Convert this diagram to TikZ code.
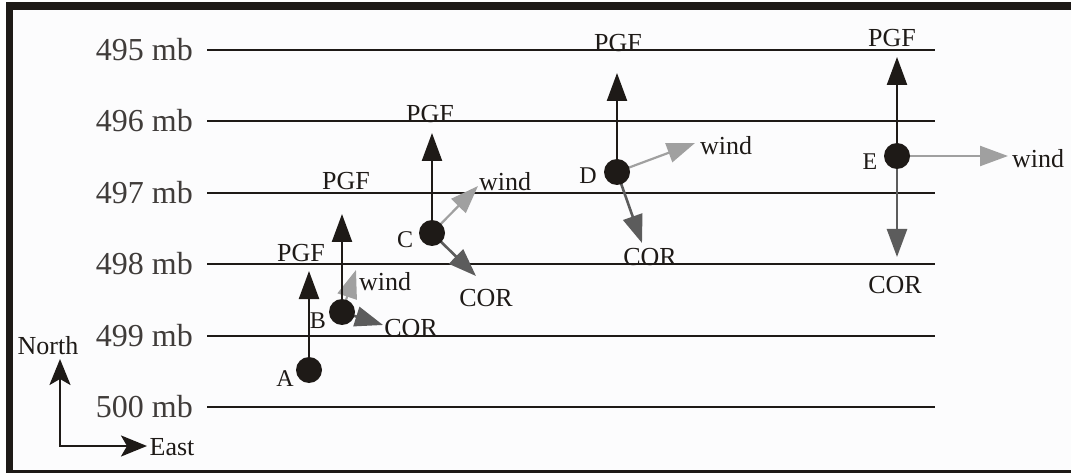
\documentclass[tikz,border=0pt]{standalone}
\usepackage{fontspec}
\setmainfont{Liberation Serif}
\usetikzlibrary{arrows.meta}
\pgfdeclarelayer{back}
\pgfsetlayers{back,main}

\definecolor{ink}{HTML}{1E1A17}
\definecolor{windc}{HTML}{A0A0A0}
\definecolor{corc}{HTML}{5C5C5C}
\definecolor{paper}{HTML}{FCFCFD}

\begin{document}
\begin{tikzpicture}[x=1pt,y=-1pt,
  isobar/.style={draw=ink, line width=2.8pt},
  lvl/.style={anchor=east, inner sep=0pt, text=ink!85, font=\fontsize{32}{38}\selectfont},
  tag/.style={inner sep=0pt, text=ink, font=\fontsize{26}{30}\selectfont},
  ptname/.style={inner sep=0pt, text=ink, font=\fontsize{24}{28}\selectfont},
  parcel/.style={circle, fill=ink, minimum size=26pt, inner sep=0pt},
  headtip/.tip={Triangle[length=28pt,width=20pt]},
  pgfvec/.style={draw=ink, line width=2.3pt, -headtip},
  windvec/.style={draw=windc, line width=2.2pt, -headtip},
  corvec/.style={draw=corc, line width=2.6pt, -headtip},
  axistip/.tip={Stealth[length=26pt,width=21pt,inset=6pt]},
  axis/.style={draw=ink, line width=2.6pt, axistip-axistip},
]
\useasboundingbox (0,0) rectangle (1071,473);

% air parcels
\node[parcel] (A) at (309,370) {};
\node[parcel] (B) at (342,312) {};
\node[parcel] (C) at (432,233) {};
\node[parcel] (D) at (617,172) {};
\node[parcel] (E) at (897,156) {};

% tips of the force and wind vectors
\coordinate (A-pgf) at (309,271);
\coordinate (B-pgf) at (342,214);
\coordinate (B-wind) at (356,270);
\coordinate (B-cor) at (383,325);
\coordinate (C-pgf) at (432,133);
\coordinate (C-wind) at (478,186);
\coordinate (C-cor) at (476,276);
\coordinate (D-pgf) at (617,73);
\coordinate (D-wind) at (695,143);
\coordinate (D-cor) at (642,243);
\coordinate (E-pgf) at (897,57);
\coordinate (E-wind) at (1008,156);
\coordinate (E-cor) at (897,257);

\begin{pgfonlayer}{back}
  % frame
  \fill[white] (0,0) rectangle (1071,473);
  \fill[ink] (6,2) rectangle (1071,473);
  \fill[paper] (13,10) rectangle (1071,470);
  % isobars
  \foreach \p/\y in {495/50,496/121,497/193,498/264,499/336,500/407} {
    \node[lvl] (mb\p) at (193,\y) {\p\ mb};
    \draw[isobar] (207,\y) -- (935,\y);
  }
  % vectors
  \draw[windvec] (B.center) -- (B-wind);
  \draw[corvec] (B.center) -- (B-cor);
  \draw[windvec] (C.center) -- (C-wind);
  \draw[corvec] (C.center) -- (C-cor);
  \draw[windvec] (D.center) -- (D-wind);
  \draw[corvec] (D.center) -- (D-cor);
  \draw[windvec] (E.center) -- (E-wind);
  \draw[corvec] (E.center) -- (E-cor);
  \draw[pgfvec] (A.center) -- (A-pgf);
  \draw[pgfvec] (B.center) -- (B-pgf);
  \draw[pgfvec] (C.center) -- (C-pgf);
  \draw[pgfvec] (D.center) -- (D-pgf);
  \draw[pgfvec] (E.center) -- (E-pgf);
\end{pgfonlayer}

% parcel names
\node[ptname] (A-lab) at (285,379) {A};
\node[ptname] (B-lab) at (318,321) {B};
\node[ptname] (C-lab) at (405,240) {C};
\node[ptname] (D-lab) at (588,176) {D};
\node[ptname] (E-lab) at (870,162) {E};

% vector labels
\node[tag] (A-pgf-lab) at (301,253) {PGF};
\node[tag] (B-pgf-lab) at (346,181) {PGF};
\node[tag] (C-pgf-lab) at (430,114) {PGF};
\node[tag] (D-pgf-lab) at (618,43) {PGF};
\node[tag] (E-pgf-lab) at (892,38) {PGF};
\node[tag] (B-wind-lab) at (385,282) {wind};
\node[tag] (C-wind-lab) at (505,182) {wind};
\node[tag] (D-wind-lab) at (726,146) {wind};
\node[tag] (E-wind-lab) at (1038,159) {wind};
\node[tag] (B-cor-lab) at (411,328) {COR};
\node[tag] (C-cor-lab) at (486,298) {COR};
\node[tag] (D-cor-lab) at (650,257) {COR};
\node[tag] (E-cor-lab) at (895,285) {COR};

% compass
\coordinate (O) at (60,446);
\coordinate (N-tip) at (60,359);
\coordinate (E-tip) at (147,446);
\draw[axis] (N-tip) -- (O) -- (E-tip);
\node[tag] (north) at (48,346) {North};
\node[tag] (east) at (172,447) {East};
\end{tikzpicture}
\end{document}
